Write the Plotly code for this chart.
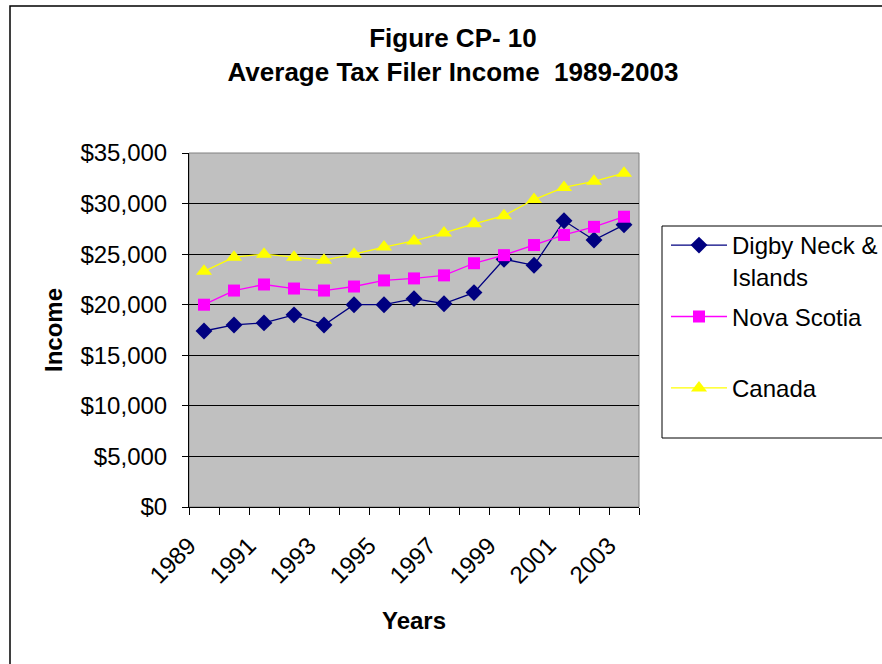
import plotly.graph_objects as go

years = list(range(1989, 2004))
digby = [17400, 18000, 18200, 19000, 18000, 20000, 20000, 20600, 20100, 21200, 24500, 23900, 28300, 26400, 27900]
nova_scotia = [20000, 21400, 22000, 21600, 21400, 21800, 22400, 22600, 22900, 24100, 24900, 25900, 26900, 27700, 28700]
canada = [23300, 24700, 25000, 24700, 24400, 25000, 25700, 26300, 27100, 28000, 28800, 30400, 31600, 32200, 33000]
label_years = years[::2]

FONT = "Liberation Sans, Arial, sans-serif"
W, H = 882, 664
L, R, T, B = 189, 639, 153, 507

def px(x):
    return (x - L) / (R - L)

def py(y):
    return (B - y) / (B - T)

fig = go.Figure()
fig.add_trace(go.Scatter(x=years, y=digby, name="Digby Neck &<br>Islands", mode="lines+markers",
                         line=dict(color="#000080", width=1.3),
                         marker=dict(symbol="diamond", size=13, color="#000080"), legendgroup="a"))
fig.add_trace(go.Scatter(x=years, y=nova_scotia, name="Nova Scotia<br> ", mode="lines+markers",
                         line=dict(color="#FF00FF", width=1.3),
                         marker=dict(symbol="square", size=12, color="#FF00FF"), legendgroup="b"))
fig.add_trace(go.Scatter(x=years, y=canada, name="Canada", mode="lines+markers",
                         line=dict(color="#FFFF00", width=1.3),
                         marker=dict(symbol="triangle-up", size=14, color="#FFFF00"), legendgroup="c"))

fig.update_layout(
    width=W, height=H,
    margin=dict(l=L, r=W - R, t=T, b=H - B, pad=0, autoexpand=False),
    paper_bgcolor="white", plot_bgcolor="#C0C0C0",
    font=dict(family=FONT, size=24, color="black"),
    title=dict(text="<b>Figure CP- 10<br>Average Tax Filer Income  1989-2003</b>",
               x=px(453), xref="paper", xanchor="center",
               y=1 - 47 / H, yref="container", yanchor="top",
               font=dict(size=26, family=FONT)),
    showlegend=True,
    legend=dict(x=px(666), y=py(223), xanchor="left", yanchor="top",
                bgcolor="rgba(0,0,0,0)", borderwidth=0,
                font=dict(size=24, family=FONT), valign="top",
                traceorder="grouped", tracegroupgap=6, itemwidth=56),
    xaxis=dict(range=[years[0] - 0.5, years[-1] + 0.5], tickmode="array",
               tickvals=label_years, ticktext=[str(y) for y in label_years],
               tickangle=-45, ticks="", showgrid=False, zeroline=False,
               showline=True, linecolor="black", linewidth=1,
               ticklabelshift=-15, ticklabelstandoff=14,
               minor=dict(tick0=years[0] - 0.5, dtick=1, ticks="outside", ticklen=7,
                          tickcolor="black", showgrid=False),
               title=dict(text="<b>Years</b>", font=dict(size=24), standoff=24),
               tickfont=dict(size=24)),
    yaxis=dict(range=[0, 35000], dtick=5000, tickformat="$,", ticks="outside", ticklen=6,
               tickcolor="black", showgrid=True, gridcolor="black", gridwidth=1,
               zeroline=False, showline=True, linecolor="black", linewidth=1,
               ticklabelstandoff=10,
               title=dict(text="<b>Income</b>", font=dict(size=24), standoff=11),
               tickfont=dict(size=24)),
)

# plot area border (top/right grey)
fig.add_shape(type="rect", xref="paper", yref="paper", x0=0, x1=1, y0=0, y1=1,
              line=dict(color="#808080", width=1), layer="below")
# legend box
fig.add_shape(type="rect", xref="paper", yref="paper", x0=px(662), x1=px(900), y0=py(438), y1=py(226),
              line=dict(color="black", width=1), fillcolor="rgba(0,0,0,0)")
# chart area border
fig.add_shape(type="rect", xref="paper", yref="paper", x0=px(10), x1=px(900), y0=py(680), y1=py(6),
              line=dict(color="black", width=1.5), fillcolor="rgba(0,0,0,0)")

fig.write_html("out.html", config={"displayModeBar": False},
               post_script="document.body.style.margin='0';document.body.style.overflow='hidden';")
